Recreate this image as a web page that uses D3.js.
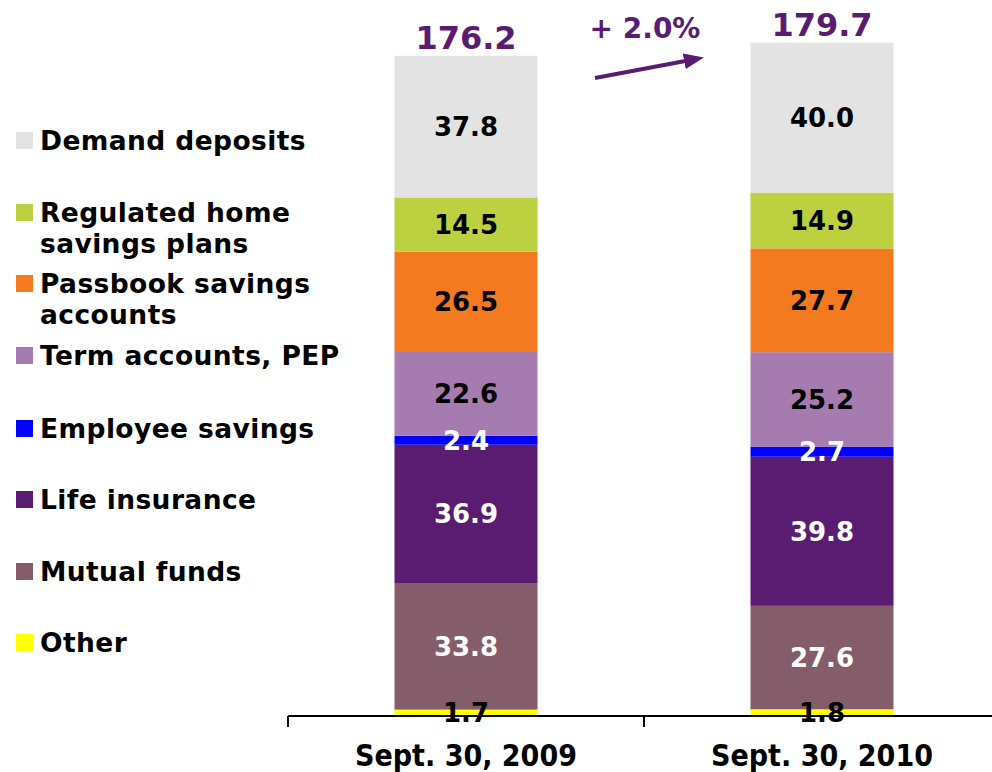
<!DOCTYPE html>
<html>
<head>
<meta charset="utf-8">
<script src="https://d3js.org/d3.v7.min.js"></script>
<style>
body { margin: 0; background: #fff; }
text { font-family: 'DejaVu Sans', Verdana, sans-serif; font-weight: bold; }
.cat { font-family: 'DejaVu Sans Condensed', 'DejaVu Sans', sans-serif; font-stretch: condensed; }
</style>
</head>
<body>
<svg width="992" height="772"></svg>
<script>
// data, bottom to top
const dates = ['Sept. 30, 2009', 'Sept. 30, 2010'];
const series = ['Other', 'Mutual funds', 'Life insurance', 'Employee savings',
    'Term accounts, PEP', 'Passbook savings accounts', 'Regulated home savings plans', 'Demand deposits'];
const values2009 = [1.7, 33.8, 36.9, 2.4, 22.6, 26.5, 14.5, 37.8];
const values2010 = [1.8, 27.6, 39.8, 2.7, 25.2, 27.7, 14.9, 40.0];
const totals = ['176.2', '179.7'];
const growth = '+ 2.0%';

const colors = ['#ffff00', '#845c6a', '#5a1c70', '#0000ff', '#a67bb0', '#f47a20', '#bdd03f', '#e2e3e2'];
const labelColors = ['#000', '#fff', '#fff', '#fff', '#000', '#000', '#000', '#000'];

// legend lines (top to bottom)
const legendLines = [
    ['Demand deposits'],
    ['Regulated home', 'savings plans'],
    ['Passbook savings', 'accounts'],
    ['Term accounts, PEP'],
    ['Employee savings'],
    ['Life insurance'],
    ['Mutual funds'],
    ['Other']
];
const legendY = [140, 212, 283, 355, 428, 499, 571, 642];

const svg = d3.select('svg');

const x = d3.scaleBand().domain(dates).range([288, 1000]).paddingInner(0).paddingOuter(0);
const y = d3.scaleLinear().domain([0, 191.1]).range([716, 0]);
const barW = 143;

const rows = dates.map((d, i) => {
    const vals = i === 0 ? values2009 : values2010;
    const obj = {date: d};
    series.forEach((s, j) => obj[s] = vals[j]);
    return obj;
});

const stack = d3.stack().keys(series)(rows);

const layer = svg.append('g').selectAll('g')
    .data(stack)
    .join('g')
    .attr('fill', (d, i) => colors[i]);

layer.selectAll('rect')
    .data(d => d)
    .join('rect')
    .attr('x', d => x(d.data.date) + x.bandwidth() / 2 - barW / 2)
    .attr('width', barW)
    .attr('y', d => y(d[1]))
    .attr('height', d => y(d[0]) - y(d[1]));

// axis
svg.append('line')
    .attr('x1', 288).attr('x2', 992)
    .attr('y1', 716).attr('y2', 716)
    .attr('stroke', '#000').attr('stroke-width', 2);

svg.append('g').selectAll('line')
    .data([288, 288 + x.step()])
    .join('line')
    .attr('x1', d => d).attr('x2', d => d)
    .attr('y1', 716).attr('y2', 727)
    .attr('stroke', '#000').attr('stroke-width', 2);

// segment labels
stack.forEach((s, i) => {
    svg.append('g').selectAll('text')
        .data(s)
        .join('text')
        .attr('x', d => x(d.data.date) + x.bandwidth() / 2)
        .attr('y', d => (y(d[0]) + y(d[1])) / 2)
        .attr('dy', '0.36em')
        .attr('text-anchor', 'middle')
        .attr('font-size', 26)
        .attr('fill', labelColors[i])
        .text(d => d3.format('.1f')(d[1] - d[0]));
});

// totals
svg.append('g').selectAll('text')
    .data(dates)
    .join('text')
    .attr('x', d => x(d) + x.bandwidth() / 2)
    .attr('y', (d, i) => y(+totals[i]) - 7)
    .attr('text-anchor', 'middle')
    .attr('font-size', 32)
    .attr('fill', '#5a1c70')
    .text((d, i) => totals[i]);

// category labels
svg.append('g').selectAll('text')
    .data(dates)
    .join('text')
    .attr('class', 'cat')
    .attr('x', d => x(d) + x.bandwidth() / 2)
    .attr('y', 766)
    .attr('text-anchor', 'middle')
    .attr('font-size', 30)
    .attr('fill', '#000')
    .text(d => d);

// growth arrow
svg.append('defs').append('marker')
    .attr('id', 'head')
    .attr('viewBox', '0 0 10 10')
    .attr('refX', 6).attr('refY', 5)
    .attr('markerWidth', 5).attr('markerHeight', 4)
    .attr('markerUnits', 'strokeWidth')
    .attr('preserveAspectRatio', 'none')
    .attr('orient', 'auto')
    .append('path')
    .attr('d', 'M0,0 L10,5 L0,10 z')
    .attr('fill', '#5a1c70');

svg.append('line')
    .attr('x1', 595).attr('y1', 78)
    .attr('x2', 696).attr('y2', 59)
    .attr('stroke', '#5a1c70').attr('stroke-width', 4)
    .attr('marker-end', 'url(#head)');

svg.append('text')
    .attr('x', 645).attr('y', 38)
    .attr('text-anchor', 'middle')
    .attr('font-size', 28)
    .attr('fill', '#5a1c70')
    .text(growth);

// legend
const legend = svg.append('g').selectAll('g')
    .data(legendLines)
    .join('g')
    .attr('transform', (d, i) => `translate(16,${legendY[i]})`);

legend.append('rect')
    .attr('x', 0).attr('y', -8)
    .attr('width', 17).attr('height', 17)
    .attr('fill', (d, i) => colors[colors.length - 1 - i]);

legend.each(function (lines) {
    const t = d3.select(this).append('text')
        .attr('x', 24)
        .attr('y', 0)
        .attr('font-size', 26.5)
        .attr('letter-spacing', 0.4)
        .attr('fill', '#000');
    lines.forEach((l, k) => {
        t.append('tspan')
            .attr('x', 24)
            .attr('dy', k === 0 ? '0.36em' : 31)
            .text(l);
    });
});
</script>
</body>
</html>
